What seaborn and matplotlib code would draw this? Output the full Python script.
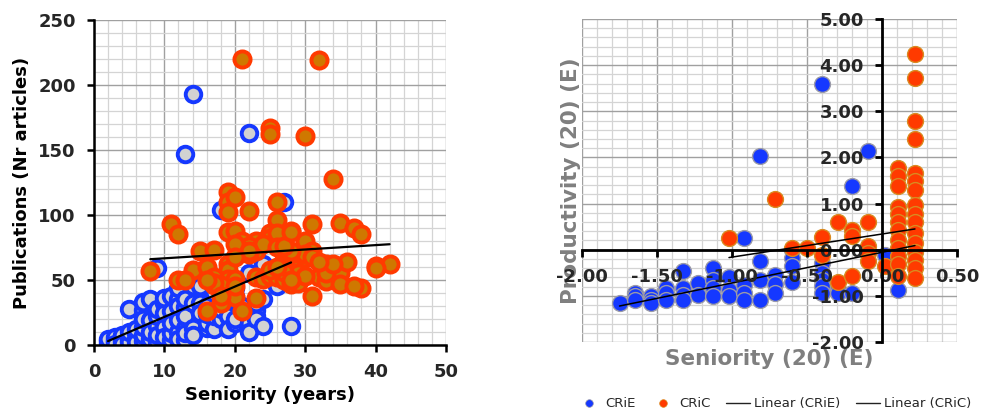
import numpy as np
import pandas as pd
import matplotlib
matplotlib.use("Agg")
import matplotlib.pyplot as plt
from matplotlib.ticker import MultipleLocator, FormatStrFormatter
from matplotlib.lines import Line2D
import seaborn as sns

# ---------------- data: left panel (raw) ----------------
crie_sen = [2, 2, 2, 3, 3, 3, 3, 4, 4, 4, 4, 5, 5, 5, 5, 5, 6, 6, 6, 6, 7, 7, 7, 7, 7, 7,
            8, 8, 8, 8, 9, 9, 9, 9, 9, 9, 10, 10, 10, 10, 10, 10, 11, 11, 11, 11, 11,
            12, 12, 12, 12, 12, 12, 13, 13, 13, 13, 13, 13, 13, 14, 14, 14, 14, 14,
            15, 15, 15, 16, 16, 16, 16, 17, 17, 17, 18, 18, 18, 19, 19, 19, 20, 20, 20,
            21, 22, 22, 22, 22, 23, 23, 23, 23, 24, 24, 24, 27, 28, 25, 26, 20]
crie_pub = [3, 1, 5, 2, 4, 6, 1, 3, 6, 8, 1, 4, 7, 2, 10, 28, 5, 9, 2, 12, 3, 8, 14, 27, 33, 20,
            5, 19, 10, 35, 2, 15, 22, 28, 59, 8, 0, 14, 32, 6, 25, 36, 4, 9, 26, 38, 17,
            10, 19, 35, 5, 30, 44, 4, 13, 29, 147, 9, 35, 22, 193, 13, 32, 45, 8,
            45, 32, 25, 13, 17, 24, 30, 12, 40, 22, 104, 20, 28, 22, 12, 35, 17, 20, 38,
            30, 163, 17, 10, 55, 22, 27, 32, 20, 62, 15, 35, 110, 15, 55, 45, 44]

cric_sen = [21, 32, 25, 25, 30, 34, 19, 19, 19, 20, 22, 26, 11, 12, 19, 20, 26, 28, 31, 35,
            37, 38, 30, 24, 23, 21, 22, 21, 20, 25, 25, 15, 17, 8, 14, 16, 19, 19, 19,
            12, 13, 17, 17, 20, 20, 18, 16, 21, 23, 23, 24, 25, 26, 27, 28, 29, 29, 30,
            31, 32, 31, 33, 34, 33, 35, 35, 36, 38, 40, 42, 27, 27, 26, 23, 24, 22, 26,
            28, 29, 30, 31, 27, 25, 26, 22, 18, 20, 28, 29, 33, 34, 30, 17, 18, 16, 20,
            27, 28, 32, 40, 28, 37]
cric_pub = [220, 219, 167, 162, 161, 128, 118, 110, 102, 114, 103, 110, 93, 85, 87, 88, 96,
            88, 93, 94, 90, 85, 80, 80, 80, 80, 76, 72, 78, 86, 82, 72, 73, 57, 58, 60,
            62, 58, 51, 50, 50, 52, 46, 51, 37, 32, 26, 26, 36, 52, 51, 53, 52, 50, 47,
            52, 66, 67, 72, 52, 38, 62, 59, 49, 55, 47, 64, 44, 61, 62, 70, 74, 86, 72,
            78, 70, 75, 70, 55, 70, 68, 56, 58, 60, 72, 46, 68, 72, 48, 55, 62, 53, 48,
            38, 50, 45, 76, 50, 64, 59, 87, 45]

trend_l_crie_x = [2, 28]
trend_l_crie_y = [3, 63.5]
trend_l_cric_x = [8, 42]
trend_l_cric_y = [66, 77.5]

# ---------------- data: right panel (standardised) ----------------
crie_zsen = [-1.75, -1.65, -1.65, -1.65, -1.54, -1.54, -1.54, -1.44, -1.44, -1.44,
             -1.33, -1.33, -1.33, -1.33, -1.23, -1.23, -1.13, -1.13, -1.13, -1.13,
             -1.02, -1.02, -1.02, -0.92, -0.92, -0.92, -0.92, -0.81, -0.81, -0.81, -0.81,
             -0.71, -0.71, -0.71, -0.60, -0.60, -0.60, -0.60, -0.40, -0.40, -0.40,
             -0.40, -0.40, -0.40, -0.29, -0.29, -0.20, -0.20, -0.09, 0.02, 0.11]
crie_zprod = [-1.16, -0.93, -1.01, -1.09, -1.00, -1.09, -1.16, -0.83, -0.94, -1.09,
              -0.47, -0.83, -0.98, -1.08, -0.72, -0.98, -0.40, -0.65, -0.83, -1.01,
              -0.60, -0.87, -1.01, 0.25, -0.76, -0.94, -1.09, 2.04, -0.25, -0.65, -1.09,
              -0.55, -0.74, -0.93, 0.0, -0.18, -0.36, -0.69, 3.59, -0.29, -0.50,
              -0.66, -0.78, -0.94, -0.85, -0.94, 1.38, -0.94, 2.14, -0.11, -0.87]

cric_zsen = [-1.02, -0.71, -0.60, -0.50, -0.40, -0.40, -0.29, -0.29, -0.20, -0.20, -0.20,
             -0.09, -0.09, -0.09, -0.09, 0.02,
             0.11, 0.11, 0.11, 0.11, 0.11, 0.11, 0.11, 0.11, 0.11, 0.11, 0.11, 0.11,
             0.22, 0.22, 0.22, 0.22, 0.22, 0.22, 0.22, 0.22, 0.22, 0.22, 0.22, 0.22,
             0.22, 0.22, 0.22, 0.22]
cric_zprod = [0.25, 1.10, 0.04, 0.04, 0.27, -0.11, 0.59, -0.69, 0.43, 0.29, -0.57,
              0.59, 0.08, -0.07, -0.25, -0.36,
              1.78, 1.59, 1.38, 0.93, 0.78, 0.60, 0.43, 0.21, 0.04, -0.14, -0.32, -0.58,
              4.24, 3.73, 2.79, 2.39, 1.66, 1.48, 1.30, 0.97, 0.78, 0.60, 0.36, 0.14,
              -0.04, -0.22, -0.40, -0.62]

trend_r_crie_x = [-1.75, 0.22]
trend_r_crie_y = [-1.22, 0.09]
trend_r_cric_x = [-1.02, 0.22]
trend_r_cric_y = [-0.17, 0.45]

# ---------------- styling ----------------
sns.set_theme(style="white")
plt.rcParams["font.family"] = ["DejaVu Sans"]

BLUE = "#1538ff"
ORANGE = "#ff3a00"
MAJ_GRID = "#a0a0a0"
MIN_GRID = "#d4d4d4"

fig = plt.figure(figsize=(9.84, 4.12), dpi=100)

# ---------------- left panel ----------------
axl = fig.add_axes([0.0955, 0.1626, 0.3577, 0.789])
axl.set_axisbelow(True)
df_le = pd.DataFrame({"x": crie_sen, "y": crie_pub})
df_lc = pd.DataFrame({"x": cric_sen, "y": cric_pub})
sns.scatterplot(data=df_le, x="x", y="y", ax=axl, s=125, color="#d2d2d2",
                edgecolor=BLUE, linewidth=2.8, zorder=2, legend=False)
sns.scatterplot(data=df_lc, x="x", y="y", ax=axl, s=135, color="#cf7800",
                edgecolor=ORANGE, linewidth=2.8, zorder=3, legend=False)
sns.lineplot(x=trend_l_crie_x, y=trend_l_crie_y, ax=axl, color="black", lw=1.6, zorder=4)
sns.lineplot(x=trend_l_cric_x, y=trend_l_cric_y, ax=axl, color="black", lw=1.6, zorder=4)
axl.set_xlim(0, 50)
axl.set_ylim(0, 250)
axl.xaxis.set_major_locator(MultipleLocator(10))
axl.xaxis.set_minor_locator(MultipleLocator(2))
axl.yaxis.set_major_locator(MultipleLocator(50))
axl.yaxis.set_minor_locator(MultipleLocator(10))
axl.grid(which="major", color=MAJ_GRID, lw=1.0)
axl.grid(which="minor", color=MIN_GRID, lw=0.9)
for s in ["top", "right"]:
    axl.spines[s].set_visible(False)
for s in ["left", "bottom"]:
    axl.spines[s].set_color("black")
    axl.spines[s].set_linewidth(1.8)
axl.tick_params(which="major", direction="out", length=5, width=1.8, color="black",
                labelsize=13, pad=8, left=True, bottom=True)
axl.tick_params(which="minor", length=0)
for lab in axl.get_xticklabels() + axl.get_yticklabels():
    lab.set_fontweight("bold")
axl.set_xlabel("Seniority (years)", fontsize=13, fontweight="bold", color="black")
axl.set_ylabel("Publications (Nr articles)", fontsize=13, fontweight="bold", color="black")
axl.xaxis.set_label_coords(0.5, -0.125)
axl.yaxis.set_label_coords(-0.18, 0.5)

# ---------------- right panel ----------------
pos_r = [0.5915, 0.1699, 0.381, 0.784]
axr = fig.add_axes(pos_r)
axr.set_axisbelow(True)
df_re = pd.DataFrame({"x": crie_zsen, "y": crie_zprod})
df_rc = pd.DataFrame({"x": cric_zsen, "y": cric_zprod})
sns.scatterplot(data=df_re, x="x", y="y", ax=axr, s=130, color=BLUE,
                edgecolor="#9a9aa8", linewidth=1.0, zorder=2, legend=False)
sns.scatterplot(data=df_rc, x="x", y="y", ax=axr, s=130, color=ORANGE,
                edgecolor="#d98a20", linewidth=1.0, zorder=3, legend=False)
sns.lineplot(x=trend_r_crie_x, y=trend_r_crie_y, ax=axr, color="black", lw=1.1, zorder=4)
sns.lineplot(x=trend_r_cric_x, y=trend_r_cric_y, ax=axr, color="black", lw=1.1, zorder=4)
axr.set_xlim(-2.0, 0.5)
axr.set_ylim(-2.0, 5.0)
axr.xaxis.set_major_locator(MultipleLocator(0.5))
axr.xaxis.set_minor_locator(MultipleLocator(0.1))
axr.yaxis.set_major_locator(MultipleLocator(1.0))
axr.yaxis.set_minor_locator(MultipleLocator(0.2))
axr.grid(which="major", color=MAJ_GRID, lw=1.0)
axr.grid(which="minor", color=MIN_GRID, lw=0.9)
axr.tick_params(which="both", length=0, labelleft=False, labelbottom=False)
for s in axr.spines.values():
    s.set_visible(False)
axr.set_xlabel("Seniority (20) (E)", fontsize=15.5, fontweight="bold", color="#7f7f7f")
axr.set_ylabel("Productivity (20) (E)", fontsize=15.5, fontweight="bold", color="#7f7f7f")
axr.xaxis.set_label_coords(0.5, -0.022)
axr.yaxis.set_label_coords(-0.004, 0.5)

# overlay axes: zero-crossing spines and tick labels above the markers
axo = fig.add_axes(pos_r, zorder=5)
axo.patch.set_visible(False)
axo.set_xlim(-2.0, 0.5)
axo.set_ylim(-2.0, 5.0)
axo.xaxis.set_major_locator(MultipleLocator(0.5))
axo.yaxis.set_major_locator(MultipleLocator(1.0))
axo.xaxis.set_major_formatter(FormatStrFormatter("%.2f"))
axo.yaxis.set_major_formatter(FormatStrFormatter("%.2f"))
axo.spines["left"].set_position(("data", 0))
axo.spines["bottom"].set_position(("data", 0))
axo.spines["top"].set_visible(False)
axo.spines["right"].set_visible(False)
for s in ["left", "bottom"]:
    axo.spines[s].set_color("black")
    axo.spines[s].set_linewidth(2.0)
axo.tick_params(which="major", direction="out", length=5, width=2.0, color="black",
                labelsize=13, pad=8, left=True, bottom=True)
axo.grid(False)
for lab in axo.get_xticklabels() + axo.get_yticklabels():
    lab.set_fontweight("bold")

# legend
handles = [
    Line2D([], [], marker="o", ls="none", color=BLUE, markeredgecolor="#9a9aa8",
           markeredgewidth=0.5, markersize=5.5, label="CRiE"),
    Line2D([], [], marker="o", ls="none", color=ORANGE, markeredgecolor="#d98a20",
           markeredgewidth=0.5, markersize=5.5, label="CRiC"),
    Line2D([], [], color="#222222", lw=1.0, label="Linear (CRiE)"),
    Line2D([], [], color="#222222", lw=1.0, label="Linear (CRiC)"),
]
fig.legend(handles=handles, loc="center", bbox_to_anchor=(0.787, 0.02), ncol=4,
           frameon=False, fontsize=9.5, handlelength=1.8, handletextpad=0.3,
           columnspacing=1.2)

fig.savefig("out.png", dpi=100)
